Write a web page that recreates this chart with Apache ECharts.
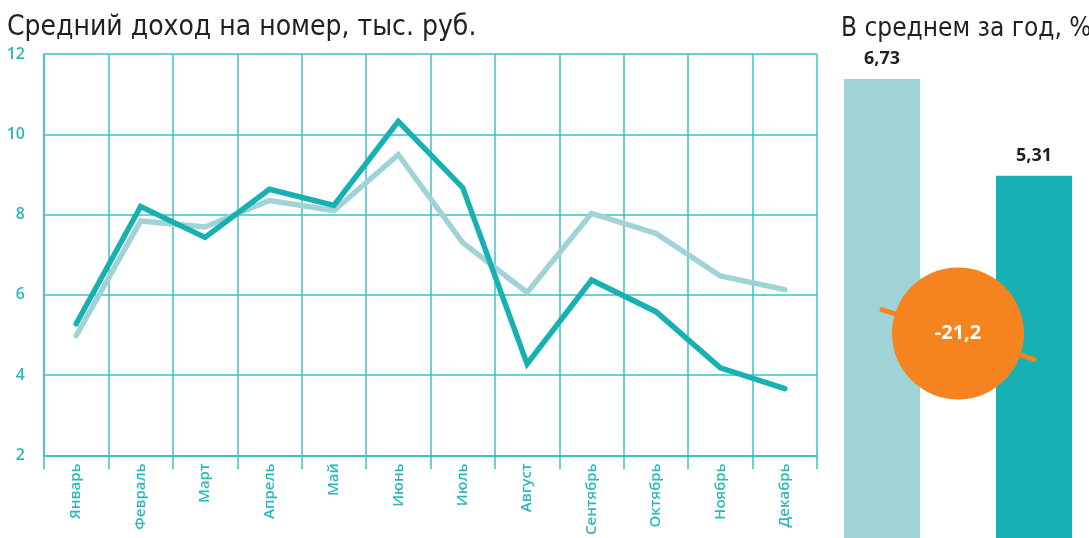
<!DOCTYPE html>
<html>
<head>
<meta charset="utf-8">
<script src="https://cdn.jsdelivr.net/npm/echarts@6/dist/echarts.min.js"></script>
<style>
  html, body { margin: 0; padding: 0; background: #fff; }
  #chart { width: 1089px; height: 538px; }
</style>
</head>
<body>
<div id="chart"></div>
<script>
  // месяцы и средний доход на номер, тыс. руб.
  var months = ['Январь', 'Февраль', 'Март', 'Апрель', 'Май', 'Июнь', 'Июль', 'Август', 'Сентябрь', 'Октябрь', 'Ноябрь', 'Декабрь'];
  var incomeDark = [5.28, 8.2, 7.43, 8.63, 8.23, 10.32, 8.67, 4.28, 6.37, 5.58, 4.18, 3.66];
  var incomeLight = [4.98, 7.84, 7.69, 8.35, 8.1, 9.49, 7.3, 6.06, 8.03, 7.53, 6.47, 6.13];
  var yTicks = [2, 4, 6, 8, 10, 12];

  // в среднем за год, %
  var yearAvg = [6.73, 5.31];
  var yearChange = -21.2;
  var connectorY = [3.35, 2.62];
  var circleY = 3.0;

  var DARK = '#17b1b4';
  var LIGHT = '#9fd3d5';
  var GRID = '#3fc1c4';
  var ORANGE = '#f58420';
  var FONT = 'Open Sans';
  var TITLE_FONT = 'DejaVu Sans Condensed';

  function comma(v) {
    return String(v).replace('.', ',');
  }

  var chart = echarts.init(document.getElementById('chart'));

  var option = {
    animation: false,
    textStyle: { fontFamily: FONT },
    title: [
      {
        text: 'Средний доход на номер, тыс. руб.',
        left: 7,
        top: 14,
        padding: 0,
        textStyle: { fontFamily: TITLE_FONT, fontSize: 28, fontWeight: 'normal', color: '#231f20' }
      },
      {
        text: 'В среднем за год, %',
        left: 841,
        top: 16,
        padding: 0,
        textStyle: { fontFamily: TITLE_FONT, fontSize: 26, fontWeight: 'normal', color: '#231f20' }
      }
    ],
    grid: [
      { left: 44, right: 272, top: 54, bottom: 81 },
      { left: 836.4, right: 9.4, top: 60.6, bottom: 0 }
    ],
    xAxis: [
      {
        gridIndex: 0,
        type: 'category',
        data: months,
        boundaryGap: true,
        axisLine: { show: true, lineStyle: { color: GRID, width: 2 } },
        axisTick: { show: true, length: 14, lineStyle: { color: GRID, width: 1.5 } },
        axisLabel: { rotate: 90, color: '#2cb8bb', fontSize: 15, fontWeight: 600, margin: 8, fontFamily: FONT },
        splitLine: { show: true, lineStyle: { color: GRID, width: 1.5 } }
      },
      {
        gridIndex: 1,
        type: 'value',
        min: -0.3,
        max: 1.3,
        show: false
      }
    ],
    yAxis: [
      {
        gridIndex: 0,
        type: 'value',
        min: 2,
        max: 12,
        interval: 2,
        axisLine: { show: true, lineStyle: { color: GRID, width: 1.5 } },
        axisTick: { show: false },
        axisLabel: {
          color: '#2cb8bb',
          fontSize: 16,
          fontWeight: 600,
          margin: 19,
          fontFamily: FONT,
          formatter: function (v) { return yTicks.indexOf(v) >= 0 ? String(v) : ''; }
        },
        splitLine: { show: true, lineStyle: { color: GRID, width: 1.5 } }
      },
      {
        gridIndex: 1,
        type: 'value',
        min: 0,
        max: 7,
        show: false
      }
    ],
    series: [
      {
        type: 'line',
        xAxisIndex: 0,
        yAxisIndex: 0,
        data: incomeLight,
        symbol: 'none',
        lineStyle: { color: LIGHT, width: 5.5, cap: 'round', join: 'miter' },
        z: 3
      },
      {
        type: 'line',
        xAxisIndex: 0,
        yAxisIndex: 0,
        data: incomeDark,
        symbol: 'none',
        lineStyle: { color: DARK, width: 5.5, cap: 'round', join: 'miter' },
        z: 4
      },
      {
        type: 'bar',
        xAxisIndex: 1,
        yAxisIndex: 1,
        barWidth: 76,
        data: yearAvg.map(function (v, i) {
          return { value: [i, v], itemStyle: { color: i === 0 ? LIGHT : DARK } };
        }),
        label: {
          show: true,
          position: 'top',
          distance: 11,
          color: '#231f20',
          fontSize: 18,
          fontWeight: 'bold',
          fontFamily: FONT,
          formatter: function (p) { return comma(p.value[1]); }
        },
        z: 2
      },
      {
        type: 'line',
        xAxisIndex: 1,
        yAxisIndex: 1,
        data: [[0, connectorY[0]], [1, connectorY[1]]],
        symbol: 'none',
        lineStyle: { color: ORANGE, width: 5, cap: 'round' },
        z: 5
      },
      {
        type: 'scatter',
        xAxisIndex: 1,
        yAxisIndex: 1,
        data: [[0.5, circleY]],
        symbolSize: 132,
        itemStyle: { color: ORANGE, opacity: 1 },
        label: {
          show: true,
          position: 'inside',
          color: '#fff',
          fontSize: 20,
          fontWeight: 'bold',
          fontFamily: FONT,
          formatter: function () { return comma(yearChange); }
        },
        z: 6
      }
    ]
  };

  chart.setOption(option);
</script>
</body>
</html>
